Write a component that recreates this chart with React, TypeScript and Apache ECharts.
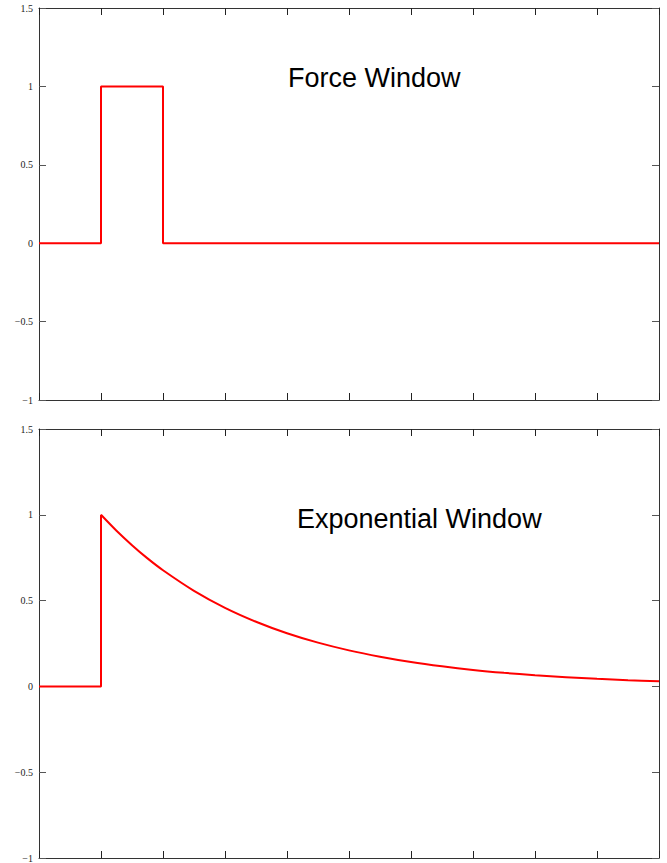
import React, { useEffect, useRef } from "react";
import * as echarts from "echarts";

// Force window (rectangular): time and amplitude
const forceT = [0, 1, 1, 2, 2, 10];
const forceY = [0, 0, 1, 1, 0, 0];

// Exponential window: flat part then decay
const expFlatT = [0, 1, 1];
const expFlatY = [0, 0, 1];
const expT = [1, 1.25, 1.5, 1.75, 2, 2.5, 3, 3.5, 4, 4.5, 5, 5.5, 6, 6.5, 7, 7.5, 8, 8.5, 9, 9.5, 10];
const expY = [1, 0.907, 0.823, 0.746, 0.677, 0.557, 0.458, 0.377, 0.31, 0.255, 0.21, 0.173, 0.142, 0.117, 0.096, 0.079, 0.065, 0.054, 0.044, 0.036, 0.03];

const yTicks = [-1, -0.5, 0, 0.5, 1, 1.5];
const titles = ["Force Window", "Exponential Window"];

const pairs = (xs: number[], ys: number[]) => xs.map((x, i) => [x, ys[i]]);

export default function App() {
  const ref = useRef<HTMLDivElement>(null);
  useEffect(() => {
    document.body.style.margin = "0";
    const chart = echarts.init(ref.current!, undefined, { renderer: "svg" });
    const axisColor = "#333";
    const grids = [
      { left: 39, top: 8, width: 620, height: 392 },
      { left: 39, top: 429, width: 620, height: 430 },
    ];
    const xAxes: any[] = [];
    const yAxes: any[] = [];
    grids.forEach((_, gi) => {
      ["bottom", "top"].forEach((pos) => {
        xAxes.push({
          type: "value",
          gridIndex: gi,
          position: pos,
          min: 0,
          max: 10,
          interval: 1,
          axisLine: { show: true, onZero: false, lineStyle: { color: axisColor, width: 1 } },
          axisTick: { show: true, inside: true, length: 7, lineStyle: { color: "#222", width: 1 } },
          axisLabel: { show: false },
          splitLine: { show: false },
        });
      });
      ["left", "right"].forEach((pos) => {
        yAxes.push({
          type: "value",
          gridIndex: gi,
          position: pos,
          min: yTicks[0],
          max: yTicks[yTicks.length - 1],
          interval: 0.5,
          axisLine: { show: true, onZero: false, lineStyle: { color: axisColor, width: 1 } },
          axisTick: { show: true, inside: true, length: 7, lineStyle: { color: "#555", width: 1 } },
          axisLabel: {
            show: pos === "left",
            margin: 6,
            fontFamily: "Liberation Serif, DejaVu Serif, serif",
            fontSize: 10,
            color: "#222",
            formatter: (v: number) => (v < 0 ? "\u2212" + Math.abs(v) : String(v)),
          },
          splitLine: { show: false },
        });
      });
    });
    const red = { color: "#ff0000", width: 2 };
    chart.setOption({
      animation: false,
      backgroundColor: "#fff",
      grid: grids,
      xAxis: xAxes,
      yAxis: yAxes,
      series: [
        {
          type: "line",
          xAxisIndex: 0,
          yAxisIndex: 0,
          data: pairs(forceT, forceY),
          showSymbol: false,
          lineStyle: red,
          itemStyle: { color: "#ff0000" },
        },
        {
          type: "line",
          xAxisIndex: 2,
          yAxisIndex: 2,
          data: pairs(expFlatT, expFlatY),
          showSymbol: false,
          lineStyle: red,
          itemStyle: { color: "#ff0000" },
        },
        {
          type: "line",
          xAxisIndex: 2,
          yAxisIndex: 2,
          data: pairs(expT, expY),
          smooth: 0.3,
          showSymbol: false,
          lineStyle: red,
          itemStyle: { color: "#ff0000" },
        },
      ],
      graphic: [
        {
          type: "text",
          x: 288,
          y: 77.6,
          style: {
            text: titles[0],
            fontFamily: "Liberation Sans, Arial, sans-serif",
            fontSize: 27,
            fill: "#000",
            verticalAlign: "middle",
            align: "left",
          },
        },
        {
          type: "text",
          x: 297,
          y: 518.6,
          style: {
            text: titles[1],
            fontFamily: "Liberation Sans, Arial, sans-serif",
            fontSize: 27,
            fill: "#000",
            verticalAlign: "middle",
            align: "left",
          },
        },
      ],
    });
    return () => chart.dispose();
  }, []);
  return (
    <div
      ref={ref}
      style={{ position: "absolute", left: 0, top: 0, width: 667, height: 863 }}
    />
  );
}
